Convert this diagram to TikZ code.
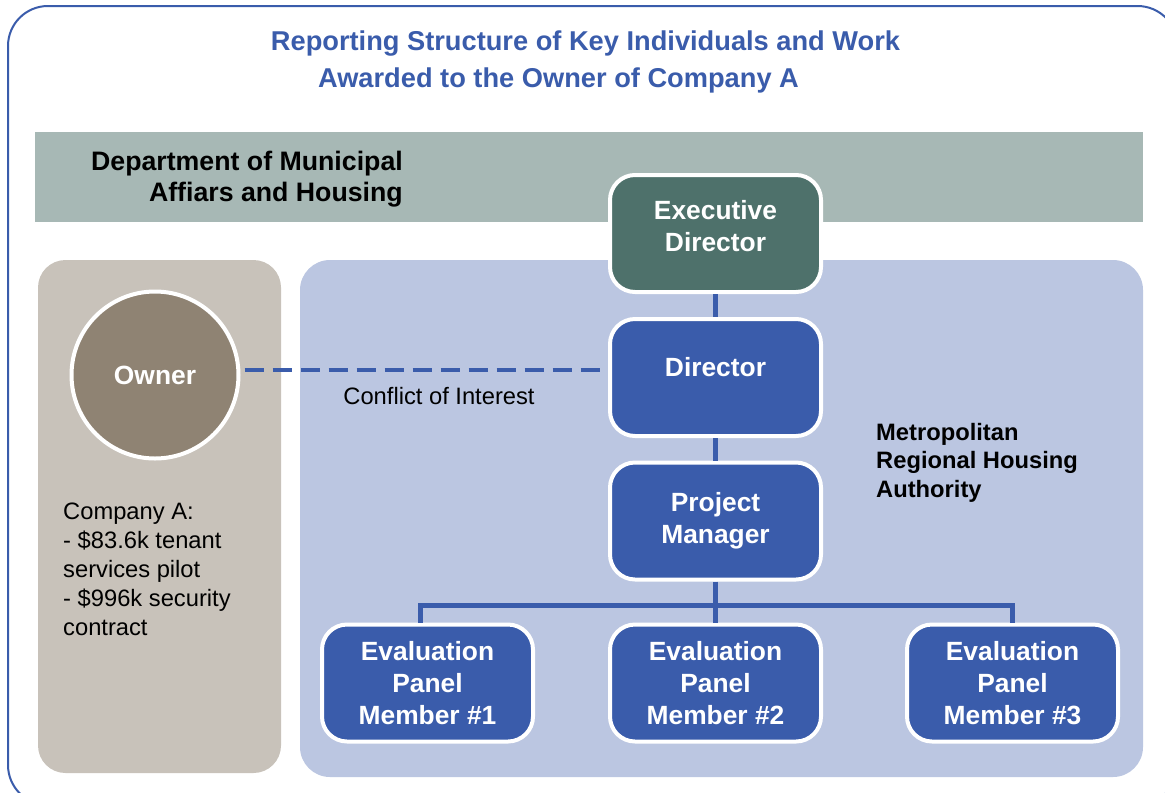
\documentclass[tikz,border=0pt]{standalone}
\usepackage{fontspec}
\setmainfont{Liberation Sans}
\usetikzlibrary{calc}
\definecolor{rptblue}{HTML}{3A5CAB}
\definecolor{rptgreen}{HTML}{4E716B}
\definecolor{bandgray}{HTML}{A7B8B5}
\definecolor{tanbg}{HTML}{C8C2BA}
\definecolor{bluebg}{HTML}{BBC6E1}
\definecolor{ownerbrown}{HTML}{8F8373}
\tikzset{
	rolebox/.style={draw=white, line width=0.08cm, rounded corners=0.5cm, minimum width=4.22cm, minimum height=2.34cm, align=center, text=white, font=\bfseries\fontsize{15}{18.2}\selectfont, fill=rptblue},
	link/.style={draw=rptblue, line width=0.09cm},
}
\def\liftup#1#2{\raisebox{#1}[\height][\depth]{\begin{tabular}{@{}c@{}}#2\end{tabular}}}

\begin{document}
\begin{tikzpicture}
			%%%%% START %%%%%
			\useasboundingbox (0, 0) rectangle (23.3, -15.84);
			
			\draw[rptblue, line width=0.04cm, rounded corners=0.8cm] (0.16, -0.12) rectangle (23.55, -16.1);
			
			\node[text=rptblue, font=\bfseries\fontsize{15.5}{18}\selectfont] (title1) at (11.71, -0.88) {Reporting Structure of Key Individuals and Work};
			\node[text=rptblue, font=\bfseries\fontsize{15.5}{18}\selectfont] (title2) at (11.17, -1.6) {Awarded to the Owner of Company A};
			
			\fill[bandgray] (0.7, -2.64) rectangle (22.86, -4.44);
			\node[anchor=east, align=right, font=\bfseries\fontsize{15.2}{17.6}\selectfont] (dept) at (8.18, -3.59) {Department of Municipal\\Affiars and Housing};
			
			\fill[tanbg, rounded corners=0.55cm] (0.76, -5.2) rectangle (5.62, -15.46);
			\fill[bluebg, rounded corners=0.6cm] (6.0, -5.2) rectangle (22.86, -15.54);
			
			\node[circle, draw=white, line width=0.08cm, fill=ownerbrown, minimum size=3.34cm, text=white, font=\bfseries\fontsize{15}{18}\selectfont] (owner) at (3.1, -7.5) {Owner};
			\node[anchor=west, align=left, font=\fontsize{13.5}{16.5}\selectfont] (compA) at (1.14, -11.39) {Company A:\\- \$83.6k tenant\\services pilot\\- \$996k security\\contract};
			
			\node[rolebox, fill=rptgreen] (exec) at (14.31, -4.67) {\liftup{0.08cm}{Executive\\Director}};
			\node[rolebox] (dir) at (14.31, -7.55) {\liftup{0.14cm}{Director}};
			\node[rolebox] (pm) at (14.31, -10.42) {Project\\Manager};
			\node[rolebox] (eval1) at (8.55, -13.66) {Evaluation\\Panel\\Member \#1};
			\node[rolebox] (eval2) at (14.31, -13.66) {Evaluation\\Panel\\Member \#2};
			\node[rolebox] (eval3) at (20.25, -13.66) {Evaluation\\Panel\\Member \#3};
			
			\node[anchor=west, align=left, font=\bfseries\fontsize{13.5}{16.2}\selectfont] (mrha) at (17.4, -9.25) {Metropolitan\\Regional Housing\\Authority};
			
			\draw[link] (exec) -- (dir);
			\draw[link] (dir) -- (pm);
			\coordinate (bus) at ($(pm.south)+(0, -0.48)$);
			\draw[link] (pm.south) -- (bus);
			\draw[link] ($(eval1.north)+(-0.14, 0)$) |- (bus) -| (eval3.north);
			\draw[link] (bus) -- (eval2.north);
			
			\draw[link, dash pattern=on 0.38cm off 0.18cm] ($(owner.east)+(0.08, 0.1)$) -- ($(owner.east -| dir.west)+(0, 0.1)$);
			\node[font=\fontsize{13.5}{16}\selectfont] (coi) at (8.78, -7.92) {Conflict of Interest};
			
			%%%%% END %%%%%
		\end{tikzpicture}
\end{document}
